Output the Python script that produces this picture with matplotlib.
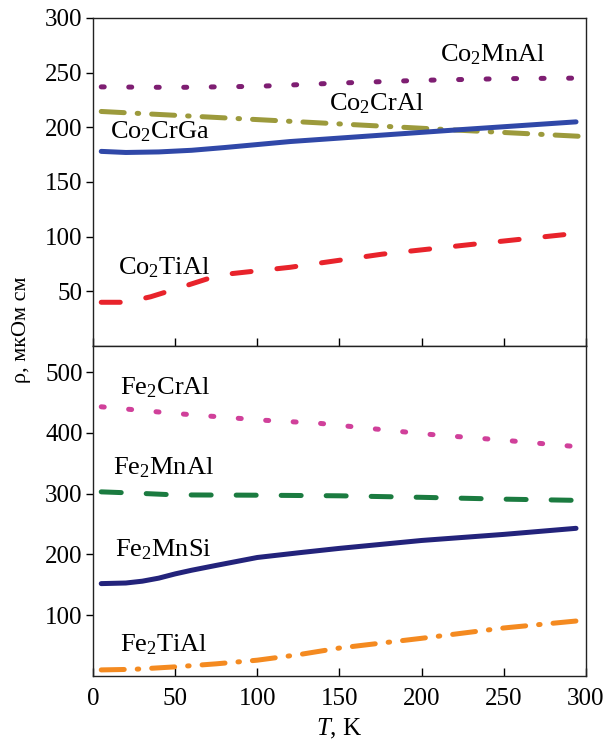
import matplotlib
matplotlib.use("Agg")
import matplotlib.pyplot as plt

plt.rcParams['font.family'] = ['Liberation Serif', 'DejaVu Serif']
plt.rcParams['mathtext.fontset'] = 'custom'
plt.rcParams['mathtext.rm'] = 'Liberation Serif'
plt.rcParams['mathtext.it'] = 'Liberation Serif:italic'

# ---- data ----
T_co2mnal = [5, 50, 100, 150, 200, 250, 295]
rho_co2mnal = [237, 236.5, 237.5, 240.5, 243, 244.5, 245]

T_co2cral = [5, 50, 120, 217, 300]
rho_co2cral = [214.5, 211, 205.5, 197.8, 191.5]

T_co2crga = [5, 20, 40, 60, 80, 120, 217, 294]
rho_co2crga = [178, 177, 177.5, 179, 181.5, 187, 197.2, 205]

T_co2tial = [5, 20, 35, 50, 77, 120, 176, 231, 294]
rho_co2tial = [40, 40, 45, 52, 65, 72, 84, 93, 103]

T_fe2cral = [5, 50, 103, 137, 203, 250, 296]
rho_fe2cral = [443, 432, 421, 416, 398, 388, 377]

T_fe2mnal = [5, 25, 50, 100, 150, 200, 250, 295]
rho_fe2mnal = [303, 301, 298, 297.5, 296.5, 294, 291, 289]

T_fe2mnsi = [5, 20, 30, 40, 50, 60, 75, 100, 126, 150, 200, 250, 294]
rho_fe2mnsi = [152, 153, 156, 161, 168, 174, 182, 195, 203, 210, 223, 233, 243]

T_fe2tial = [5, 25, 50, 75, 100, 125, 150, 200, 250, 300]
rho_fe2tial = [10, 11, 15, 20, 26, 35, 46, 62, 79, 92]

x_ticks = [0, 50, 100, 150, 200, 250, 300]
top_yticks = [50, 100, 150, 200, 250, 300]
bot_yticks = [100, 200, 300, 400, 500]

fig = plt.figure(figsize=(6.04, 7.43), dpi=100)
L, R = 0.154, 0.970
ax1 = fig.add_axes([L, 0.5343, R - L, 0.9758 - 0.5343])
ax2 = fig.add_axes([L, 0.0902, R - L, 0.5343 - 0.0902])

lw = 3.6
fs = 18
fl = 19

def line(ax, x, y, color, dashes):
    ln, = ax.plot(x, y, color=color, lw=lw, solid_capstyle='round',
                  dash_capstyle='round')
    if dashes is not None:
        ln.set_dashes(dashes)

# top panel
line(ax1, T_co2mnal, rho_co2mnal, '#7E1E72', (0.6, 4.9))
line(ax1, T_co2cral, rho_co2cral, '#9C9A3C', (4.6, 2.6, 0.3, 2.6))
line(ax1, T_co2crga, rho_co2crga, '#3048A8', None)
line(ax1, T_co2tial, rho_co2tial, '#E8232B', (3.8, 5.2))

ax1.text(211, 266, r'Co$_2$MnAl', fontsize=fl, va='center', ha='left')
ax1.text(143.6, 222, r'Co$_2$CrAl', fontsize=fl, va='center', ha='left')
ax1.text(10.3, 196, r'Co$_2$CrGa', fontsize=fl, va='center', ha='left')
ax1.text(15.2, 72, r'Co$_2$TiAl', fontsize=fl, va='center', ha='left')

ax1.set_xlim(0, 300)
ax1.set_ylim(0, 300)
ax1.set_xticks(x_ticks)
ax1.set_yticks(top_yticks)
ax1.tick_params(axis='x', direction='in', labelbottom=False, length=6, width=1)
ax1.tick_params(axis='y', direction='out', length=5, width=1, labelsize=fs, pad=2.5)

# bottom panel
line(ax2, T_fe2cral, rho_fe2cral, '#D0409A', (0.6, 4.9))
line(ax2, T_fe2mnal, rho_fe2mnal, '#1B7B40', (4.0, 5.0))
line(ax2, T_fe2mnsi, rho_fe2mnsi, '#23237B', None)
line(ax2, T_fe2tial, rho_fe2tial, '#F48A20', (4.6, 2.6, 0.3, 2.6))

ax2.text(16.4, 474, r'Fe$_2$CrAl', fontsize=fl, va='center', ha='left')
ax2.text(12.2, 342, r'Fe$_2$MnAl', fontsize=fl, va='center', ha='left')
ax2.text(13.4, 207, r'Fe$_2$MnSi', fontsize=fl, va='center', ha='left')
ax2.text(16.4, 51, r'Fe$_2$TiAl', fontsize=fl, va='center', ha='left')

ax2.set_xlim(0, 300)
ax2.set_ylim(0, 543)
ax2.set_xticks(x_ticks)
ax2.set_yticks(bot_yticks)
ax2.tick_params(axis='x', direction='in', length=6, width=1, labelsize=fs, pad=9)
ax2.tick_params(axis='y', direction='out', length=5, width=1, labelsize=fs, pad=2.5)

for ax in (ax1, ax2):
    for s in ax.spines.values():
        s.set_linewidth(1.0)
        s.set_color('#222222')

fig.text(0.5 * (L + R), 1 - 729 / 743, r'$T$, K', fontsize=fs,
         ha='center', va='center')
fig.text(22 / 604, 1 - 330 / 743, 'ρ, мкОм см', rotation=90, fontsize=16,
         ha='center', va='center')

fig.savefig('out.png', dpi=100)
